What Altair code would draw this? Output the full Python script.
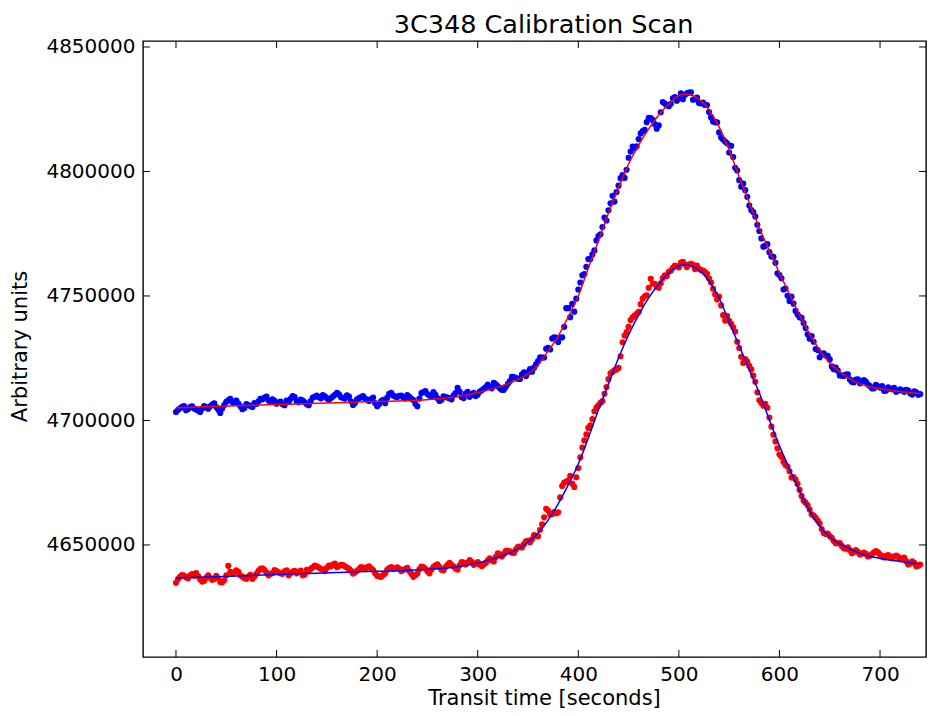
import altair as alt
import pandas as pd

# sampling times of the scan (seconds): two interleaved grids
times_a = list(range(0, 741, 4))
times_b = list(range(2, 739, 4))

# upper scan (blue dots) on grid a
upper_a = [
    4703400, 4704900, 4705800, 4704600, 4705700, 4704400, 4703400, 4705800, 4704700, 4706400,
    4705400, 4703000, 4706200, 4708100, 4707400, 4708000, 4705700, 4705000, 4706200, 4705400,
    4706600, 4708700, 4709200, 4708000, 4708500, 4706700, 4707600, 4706100, 4707400, 4709800,
    4707700, 4708400, 4707300, 4706100, 4709200, 4710000, 4708900, 4709700, 4708300, 4709600,
    4711100, 4709400, 4708800, 4709600, 4706200, 4708500, 4709400, 4708800, 4707800, 4709200,
    4705700, 4707800, 4706900, 4710700, 4710000, 4709400, 4710000, 4708800, 4709500, 4708200,
    4705700, 4711000, 4711800, 4710000, 4711400, 4708900, 4708300, 4709400, 4708900, 4710100,
    4713100, 4709400, 4710800, 4709500, 4711100, 4710400, 4712100, 4713400, 4713400, 4715100,
    4713700, 4712300, 4713500, 4715800, 4717400, 4716800, 4718500, 4717900, 4720600, 4721200,
    4723800, 4725300, 4728800, 4728500, 4733400, 4731500, 4733400, 4745100, 4741500, 4743700,
    4752600, 4758300, 4761700, 4764800, 4768300, 4774100, 4777700, 4780300, 4787200, 4787900,
    4794300, 4798500, 4800700, 4808000, 4809400, 4813000, 4816200, 4819800, 4821400, 4819000,
    4818500, 4827900, 4826600, 4827200, 4829900, 4829500, 4829000, 4831400, 4831800, 4829000,
    4827500, 4827700, 4826700, 4821700, 4819800, 4815700, 4812800, 4811300, 4810300, 4801500,
    4796500, 4795100, 4789800, 4784500, 4781900, 4776100, 4769800, 4770800, 4765900, 4763300,
    4758400, 4752600, 4750100, 4749800, 4744000, 4741500, 4739100, 4734600, 4733900, 4728700,
    4725400, 4727000, 4726000, 4721700, 4721200, 4718100, 4717900, 4718500, 4715500, 4716400,
    4714900, 4716200, 4714400, 4712900, 4714300, 4713200, 4711900, 4713300, 4712500, 4711500,
    4712500, 4711500, 4712000, 4710400, 4711300, 4710600,
]
# upper scan (blue dots) on grid b
upper_b = [
    4704200, 4705500, 4704100, 4705400, 4704800, 4704000, 4704800, 4705300, 4705700, 4706900,
    4704300, 4704800, 4707500, 4708700, 4707000, 4706800, 4704500, 4706600, 4705800, 4707000,
    4707700, 4708500, 4709600, 4707500, 4707900, 4707200, 4706500, 4708000, 4708700, 4709400,
    4707300, 4708000, 4706500, 4707800, 4709500, 4709400, 4710200, 4708900, 4709000, 4710300,
    4710500, 4709100, 4710100, 4707700, 4707000, 4709000, 4709800, 4708400, 4708600, 4707000,
    4706600, 4708300, 4709100, 4711100, 4709600, 4709900, 4709200, 4710200, 4708700, 4706700,
    4708800, 4711400, 4710600, 4709700, 4710300, 4707800, 4709700, 4709200, 4708500, 4711000,
    4711600, 4709000, 4711500, 4710300, 4709800, 4711600, 4712700, 4714400, 4712900, 4714500,
    4712900, 4712300, 4714700, 4717500, 4717000, 4716700, 4719300, 4719300, 4719600, 4722500,
    4725400, 4725300, 4729200, 4732900, 4733200, 4733300, 4737600, 4745100, 4746800, 4748900,
    4755400, 4758800, 4764800, 4766700, 4772300, 4774800, 4781500, 4784400, 4790200, 4791700,
    4797300, 4797400, 4805500, 4810000, 4810100, 4815300, 4816700, 4821500, 4820700, 4817200,
    4823800, 4827300, 4826200, 4829400, 4828400, 4831400, 4830700, 4831700, 4828800, 4829700,
    4827300, 4826700, 4823900, 4820100, 4819700, 4813600, 4812000, 4807600, 4805800, 4800400,
    4793900, 4792500, 4786300, 4783700, 4778600, 4773100, 4770200, 4767600, 4765700, 4759100,
    4757100, 4753000, 4748000, 4746900, 4742600, 4741200, 4737100, 4732800, 4731600, 4728300,
    4726900, 4726100, 4724500, 4720600, 4720000, 4718100, 4718400, 4716500, 4715300, 4716500,
    4715600, 4715500, 4713800, 4712900, 4713700, 4713800, 4712000, 4712800, 4713100, 4711900,
    4712100, 4712300, 4710900, 4711700, 4710300,
]

# lower scan (red dots) on grid a
lower_a = [
    4634800, 4637200, 4637700, 4636600, 4638300, 4638700, 4636200, 4635600, 4637800, 4636000,
    4637600, 4635100, 4635800, 4641600, 4638500, 4639800, 4637800, 4636700, 4637300, 4636400,
    4638400, 4640400, 4639900, 4637800, 4638700, 4639500, 4638600, 4639400, 4637800, 4639300,
    4638600, 4639700, 4638100, 4639400, 4641000, 4641400, 4640400, 4639500, 4641700, 4642100,
    4641100, 4642000, 4641400, 4640400, 4638500, 4639600, 4641100, 4640500, 4641400, 4639900,
    4637600, 4637200, 4638600, 4640700, 4640300, 4641000, 4639500, 4640300, 4639500, 4637200,
    4638500, 4641300, 4640400, 4638600, 4641200, 4642200, 4640000, 4641100, 4642800, 4641300,
    4640100, 4643100, 4642200, 4643900, 4642000, 4643100, 4641500, 4642800, 4644600, 4643400,
    4646600, 4645400, 4647600, 4647400, 4646800, 4649200, 4649000, 4651500, 4651100, 4654000,
    4653500, 4658300, 4664500, 4662200, 4663200, 4663100, 4673700, 4675400, 4677800, 4673300,
    4680900, 4689100, 4694400, 4698000, 4703700, 4706100, 4707800, 4713400, 4718900, 4720200,
    4721100, 4731400, 4735500, 4740300, 4742100, 4743600, 4748900, 4750300, 4756900, 4754900,
    4753300, 4757200, 4758000, 4760200, 4762200, 4761500, 4763700, 4761600, 4762900, 4760800,
    4760900, 4760200, 4758900, 4755400, 4750700, 4749800, 4742300, 4742000, 4738800, 4735700,
    4729100, 4723100, 4723600, 4720500, 4715500, 4708100, 4705900, 4705100, 4697500, 4691600,
    4686300, 4683300, 4681500, 4677100, 4676300, 4672100, 4667800, 4665900, 4662300, 4660900,
    4658700, 4654800, 4654600, 4652900, 4650700, 4650800, 4648700, 4649000, 4646700, 4647900,
    4646200, 4646900, 4645400, 4646300, 4647500, 4646100, 4645000, 4645900, 4645100, 4645700,
    4644300, 4644900, 4642200, 4643400, 4641400, 4642100,
]
# lower scan (red dots) on grid b
lower_b = [
    4636300, 4637900, 4637000, 4637700, 4637600, 4637500, 4635300, 4636800, 4636800, 4636300,
    4636600, 4635000, 4637800, 4639200, 4639000, 4639200, 4637300, 4636400, 4638000, 4637300,
    4639600, 4640600, 4638900, 4638400, 4639900, 4639000, 4638400, 4639800, 4638600, 4639600,
    4639200, 4637800, 4640000, 4640400, 4641700, 4640900, 4640100, 4640800, 4641400, 4642500,
    4641500, 4641900, 4640900, 4639600, 4639000, 4640300, 4640900, 4641000, 4640600, 4638600,
    4637400, 4637900, 4640000, 4641100, 4640600, 4640400, 4640000, 4640800, 4638400, 4637800,
    4640200, 4641100, 4639400, 4640100, 4641800, 4641100, 4639800, 4642000, 4642000, 4640500,
    4641800, 4642900, 4642900, 4643200, 4642500, 4642200, 4642100, 4643800, 4643900, 4645200,
    4646200, 4646400, 4647600, 4646900, 4648200, 4649300, 4650300, 4651700, 4652300, 4653700,
    4656100, 4661100, 4663800, 4662400, 4662700, 4669100, 4675000, 4676000, 4674600, 4677200,
    4685200, 4692000, 4697000, 4700600, 4705200, 4707100, 4710700, 4716600, 4719500, 4720500,
    4725800, 4734100, 4737600, 4741400, 4742800, 4746700, 4749900, 4753300, 4755000, 4753800,
    4755100, 4758300, 4759700, 4761300, 4761900, 4763400, 4762600, 4762600, 4762500, 4762200,
    4760400, 4759600, 4757000, 4752900, 4748600, 4746200, 4740100, 4740000, 4737400, 4731600,
    4725600, 4724700, 4721900, 4718000, 4711300, 4707000, 4706700, 4701200, 4694300, 4688800,
    4685400, 4682100, 4679600, 4677300, 4674500, 4669700, 4667000, 4664200, 4661800, 4659800,
    4656400, 4654400, 4653600, 4651600, 4650700, 4649600, 4648500, 4647900, 4647300, 4647200,
    4646500, 4646400, 4645700, 4647000, 4647000, 4645500, 4645500, 4645400, 4645300, 4645200,
    4644600, 4643500, 4642700, 4642800, 4641600,
]

# fitted curves
fit_times = [0, 20, 40, 60, 80, 100, 120, 140, 160, 180, 200, 220, 240, 260, 280, 300, 320, 340,
             350, 360, 370, 380, 390, 400, 410, 420, 430, 440, 450, 460, 470, 480, 490, 500,
             505, 510, 520, 530, 540, 550, 560, 570, 580, 590, 600, 610, 620, 630, 640, 650,
             660, 670, 680, 690, 700, 720, 740]
upper_fit = [4705100, 4705400, 4705700, 4705900, 4706100, 4706400, 4706600, 4706900, 4707100,
             4707400, 4707600, 4707800, 4708100, 4708600, 4709500, 4711200, 4713300, 4716500,
             4718700, 4722300, 4727900, 4733900, 4741600, 4750000, 4761200, 4772100, 4783300,
             4793400, 4803000, 4810600, 4817100, 4822700, 4827100, 4830500,
             4831100, 4830900, 4829100, 4824700, 4817900, 4808600, 4797800, 4787400, 4777300,
             4768100, 4759200, 4750800, 4742400, 4734700, 4728300, 4723100, 4719500, 4716700,
             4714700, 4713500, 4712700, 4711600, 4710800]
lower_fit = [4636700, 4637000, 4637200, 4637500, 4637800, 4638100, 4638400, 4638600, 4638900,
             4639200, 4639400, 4639600, 4640000, 4640400, 4641200, 4642800, 4645000, 4648400,
             4651200, 4654800, 4660000, 4666500, 4674100, 4682500, 4693000, 4704200, 4714700,
             4725100, 4734300, 4742400, 4749200, 4754800, 4759200, 4762100,
             4762500, 4762300, 4760400, 4756000, 4749200, 4739600, 4729900, 4720300, 4711000,
             4700200, 4689800, 4680500, 4671700, 4663700, 4657600, 4653200, 4650400, 4648400,
             4646600, 4645400, 4644600, 4643400, 4642400]

x_ticks = [0, 100, 200, 300, 400, 500, 600, 700]
y_ticks = [4650000, 4700000, 4750000, 4800000, 4850000]
chart_title = "3C348 Calibration Scan"

W, H = 783, 616
FONT = "DejaVu Sans"

x_enc = alt.X(
    "t:Q",
    scale=alt.Scale(domain=[-32.8, 745.7], nice=False, zero=False),
    axis=alt.Axis(values=x_ticks, title="Transit time [seconds]", labelPadding=7,
                  titleX=401, titleY=47, titleBaseline="alphabetic", titleAlign="center"),
)
y_enc = alt.Y(
    "v:Q",
    scale=alt.Scale(domain=[4605000, 4852400], nice=False, zero=False),
    axis=alt.Axis(values=y_ticks, format="d", title="Arbitrary units", labelPadding=8,
                  titleX=-117, titleY=305, titleAngle=270, titleBaseline="alphabetic",
                  titleAlign="center"),
)

upper_df = pd.DataFrame({"t": times_a + times_b, "v": upper_a + upper_b})
lower_df = pd.DataFrame({"t": times_a + times_b, "v": lower_a + lower_b})
upper_fit_df = pd.DataFrame({"t": fit_times, "v": upper_fit})
lower_fit_df = pd.DataFrame({"t": fit_times, "v": lower_fit})

DOT = 38
upper_pts = alt.Chart(upper_df).mark_circle(size=DOT, opacity=1, color="#0000ff").encode(x=x_enc, y=y_enc)
lower_pts = alt.Chart(lower_df).mark_circle(size=DOT, opacity=1, color="#ff0000").encode(x=x_enc, y=y_enc)
upper_line = alt.Chart(upper_fit_df).mark_line(color="#ff0000", strokeWidth=1.5, interpolate="monotone").encode(x=x_enc, y=y_enc)
lower_line = alt.Chart(lower_fit_df).mark_line(color="#0000ff", strokeWidth=1.5, interpolate="monotone").encode(x=x_enc, y=y_enc)

xt = alt.Chart(pd.DataFrame({"t": x_ticks}))
yt = alt.Chart(pd.DataFrame({"v": y_ticks}))
tick_bottom = xt.mark_rule(color="black", strokeWidth=1).encode(x=x_enc, y=alt.value(H - 7), y2=alt.value(H))
tick_top = xt.mark_rule(color="black", strokeWidth=1).encode(x=x_enc, y=alt.value(0), y2=alt.value(7))
tick_left = yt.mark_rule(color="black", strokeWidth=1).encode(y=y_enc, x=alt.value(0), x2=alt.value(7))
tick_right = yt.mark_rule(color="black", strokeWidth=1).encode(y=y_enc, x=alt.value(W - 7), x2=alt.value(W))

title_mark = alt.Chart(pd.DataFrame({"label": [chart_title]})).mark_text(
    font=FONT, fontSize=25.5, color="black", align="center", baseline="alphabetic"
).encode(x=alt.value(400.5), y=alt.value(-8), text="label:N")

chart = (
    alt.layer(upper_pts, lower_pts, upper_line, lower_line,
              tick_bottom, tick_top, tick_left, tick_right, title_mark)
    .properties(
        width=W,
        height=H,
        autosize=alt.AutoSizeParams(type="none"),
        padding={"left": 135, "top": 33, "right": 1, "bottom": 51},
        background="white",
    )
    .configure_view(stroke="black", strokeWidth=1.4)
    .configure_axis(labelFont=FONT, labelFontSize=20, labelColor="black",
                    titleFont=FONT, titleFontSize=21, titleFontWeight="normal",
                    titleColor="black", ticks=False, tickSize=0, domain=False, grid=False)
)

chart.save("out.html", embed_options={"renderer": "svg", "actions": False})
